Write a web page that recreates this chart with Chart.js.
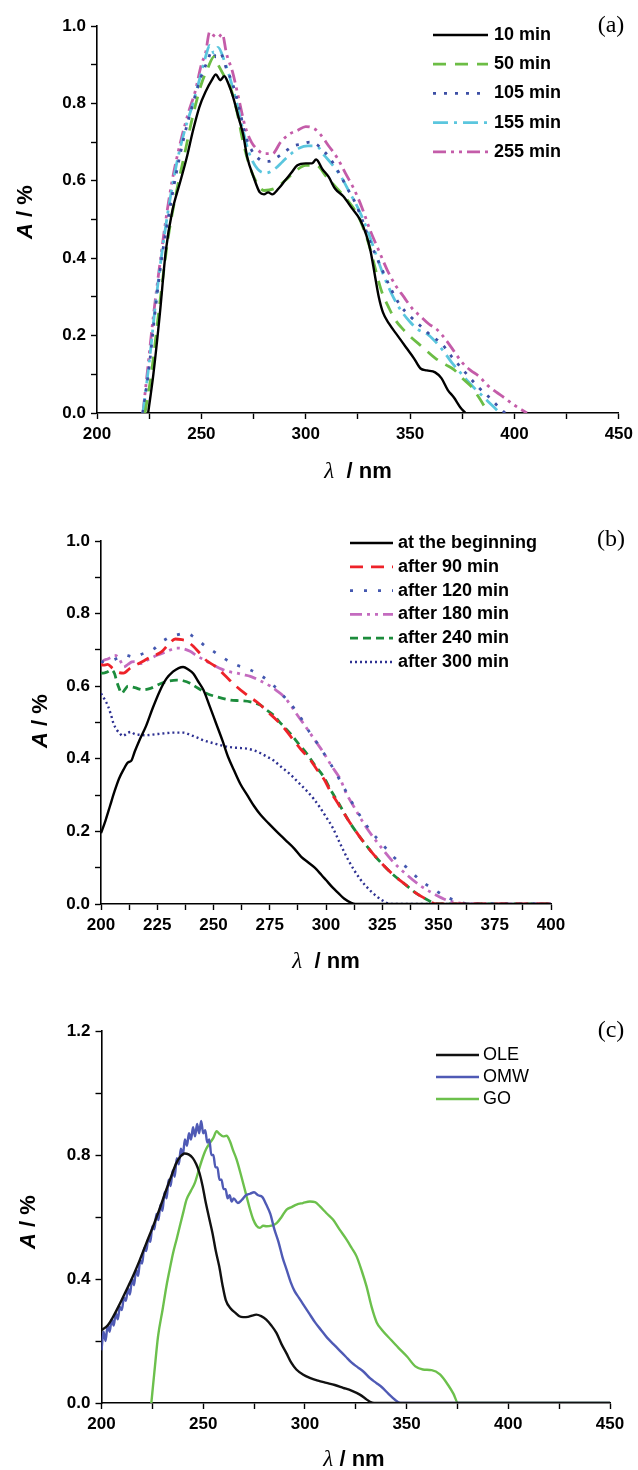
<!DOCTYPE html>
<html>
<head>
<meta charset="utf-8">
<script src="https://cdn.jsdelivr.net/npm/chart.js@4.4.1/dist/chart.umd.min.js"></script>
<style>
  body { margin: 0; background: #fff; }
  #page { position: relative; width: 638px; height: 1470px; overflow: hidden; }
  .panel { position: absolute; left: 0; width: 638px; height: 490px; }
</style>
</head>
<body>
<div id="page">
  <div class="panel" style="top:0px"><canvas id="chartA"></canvas></div>
  <div class="panel" style="top:490px"><canvas id="chartB"></canvas></div>
  <div class="panel" style="top:980px"><canvas id="chartC"></canvas></div>
</div>
<script>
// ---- panel (a): [wavelength nm, A %]
var min10 = [[224.5,0],[227,0.1],[230,0.25],[233,0.42],[236,0.52],[240,0.6],[243,0.66],[246,0.73],[249,0.79],[252,0.83],[255,0.86],[257,0.875],[259,0.86],[261,0.87],[263,0.85],[265,0.82],[268,0.76],[270,0.72],[272,0.66],[275,0.61],[278,0.57],[280,0.565],[282,0.57],[284,0.565],[287,0.58],[290,0.6],[293,0.62],[296,0.64],[300,0.645],[303,0.645],[305,0.655],[308,0.63],[311,0.61],[314,0.58],[318,0.56],[322,0.53],[326,0.5],[329,0.46],[331,0.42],[333,0.36],[335,0.3],[337,0.26],[340,0.23],[344,0.2],[348,0.17],[352,0.14],[355,0.115],[358,0.11],[362,0.105],[365,0.09],[368,0.06],[371,0.04],[374,0.015],[376.5,0]];
var min50 = [[223,0],[226,0.1],[230,0.28],[234,0.45],[238,0.57],[242,0.67],[246,0.77],[250,0.85],[253,0.89],[256,0.92],[258,0.9],[261,0.87],[264,0.84],[267,0.78],[270,0.7],[273,0.64],[276,0.6],[280,0.575],[285,0.58],[290,0.6],[295,0.625],[300,0.64],[305,0.64],[310,0.61],[315,0.58],[320,0.55],[325,0.51],[330,0.44],[333,0.38],[336,0.32],[340,0.27],[343,0.24],[346,0.22],[350,0.198],[356,0.17],[362,0.142],[367,0.125],[371,0.112],[375,0.09],[379,0.07],[383,0.04],[386.5,0.009],[387.5,0]];
var min105 = [[222,0],[225,0.12],[228,0.27],[231,0.4],[234,0.5],[238,0.62],[242,0.72],[246,0.8],[250,0.87],[253,0.91],[255,0.935],[257,0.92],[259,0.93],[262,0.89],[265,0.85],[268,0.79],[271,0.72],[274,0.68],[278,0.655],[282,0.65],[286,0.66],[290,0.675],[294,0.69],[298,0.695],[302,0.7],[305,0.695],[309,0.675],[312,0.655],[316,0.62],[320,0.58],[324,0.54],[327,0.5],[331,0.44],[335,0.39],[340,0.33],[345,0.28],[350,0.25],[355,0.225],[360,0.2],[365,0.18],[370,0.145],[374,0.12],[378,0.095],[383,0.065],[388,0.04],[392,0.018],[395.5,0]];
var min155 = [[222,0],[225,0.13],[228,0.28],[231,0.41],[234,0.52],[238,0.64],[242,0.73],[246,0.8],[250,0.88],[252,0.92],[254,0.95],[256,0.93],[258,0.945],[261,0.91],[264,0.86],[267,0.8],[270,0.73],[273,0.67],[277,0.63],[281,0.62],[285,0.63],[289,0.65],[293,0.67],[297,0.685],[301,0.69],[305,0.69],[309,0.665],[313,0.64],[317,0.61],[321,0.57],[325,0.53],[329,0.48],[333,0.42],[337,0.36],[341,0.31],[345,0.27],[350,0.235],[354,0.215],[358,0.205],[362,0.185],[366,0.16],[370,0.13],[374,0.105],[378,0.08],[382,0.058],[386,0.037],[390,0.016],[393,0]];
var min255 = [[222,0],[224,0.1],[227,0.25],[230,0.38],[233,0.5],[236,0.6],[240,0.7],[244,0.78],[247,0.83],[250,0.9],[252,0.93],[254,0.985],[256,0.975],[258,0.97],[260,0.98],[262,0.93],[265,0.88],[268,0.81],[271,0.74],[274,0.7],[277,0.68],[280,0.67],[284,0.67],[288,0.7],[292,0.72],[296,0.73],[300,0.74],[304,0.735],[307,0.72],[311,0.69],[315,0.66],[319,0.62],[323,0.58],[327,0.53],[331,0.47],[335,0.42],[339,0.37],[343,0.33],[347,0.3],[351,0.27],[355,0.25],[359,0.23],[363,0.215],[367,0.19],[371,0.16],[375,0.13],[379,0.11],[383,0.095],[387,0.072],[391,0.055],[395,0.04],[400,0.02],[406,0]];

// ---- panel (b)
var begin0 = [[200,0.195],[202,0.23],[204,0.27],[206,0.31],[208,0.345],[210,0.37],[212,0.39],[213.5,0.395],[215,0.42],[217,0.45],[220,0.49],[223,0.54],[226,0.585],[229,0.62],[232,0.64],[234.5,0.65],[236.5,0.653],[239,0.645],[241,0.635],[243,0.615],[245.5,0.59],[248,0.55],[251,0.5],[254,0.45],[256.5,0.405],[259,0.37],[262,0.33],[265,0.3],[268,0.27],[271,0.245],[274.5,0.222],[278,0.2],[282,0.176],[286,0.152],[289,0.13],[292,0.115],[295,0.1],[298,0.08],[300,0.066],[303,0.045],[305.5,0.03],[308,0.015],[311,0.004],[313,0],[400,0]];
var after90 = [[200,0.66],[201,0.658],[203,0.66],[205,0.65],[207,0.64],[210,0.636],[213,0.65],[217,0.663],[222,0.68],[227,0.695],[230,0.715],[233,0.73],[236,0.728],[238,0.725],[241,0.71],[244,0.69],[247,0.67],[251,0.654],[255,0.63],[260,0.6],[265,0.575],[270,0.553],[274,0.53],[278,0.507],[282,0.48],[285.5,0.452],[289,0.425],[293,0.397],[296,0.37],[299,0.345],[302,0.31],[305,0.28],[310,0.23],[315,0.185],[320,0.145],[325,0.11],[330,0.08],[335,0.055],[340,0.03],[345,0.012],[349,0],[400,0]];
var after120 = [[200,0.665],[201,0.668],[203,0.67],[205.5,0.672],[208,0.68],[210,0.686],[212,0.684],[215,0.68],[218,0.688],[221,0.695],[224,0.705],[226.4,0.72],[229,0.73],[231.4,0.738],[234,0.742],[236,0.745],[238,0.746],[241,0.737],[243.6,0.725],[246,0.712],[249,0.7],[253.8,0.68],[257,0.668],[260.4,0.658],[266.3,0.645],[271.6,0.627],[276.7,0.602],[280.5,0.577],[285.6,0.541],[289.3,0.508],[293,0.47],[296.7,0.438],[300.4,0.402],[304,0.365],[308,0.32],[312,0.275],[316,0.235],[320,0.2],[325,0.165],[330,0.13],[336,0.1],[342,0.065],[348,0.04],[354,0.018],[360,0.005],[363,0],[400,0]];
var after180 = [[200,0.66],[201,0.67],[203,0.675],[204.7,0.68],[206,0.685],[207.7,0.68],[209,0.665],[210,0.653],[212,0.66],[213.7,0.667],[215.5,0.668],[217.4,0.662],[220,0.67],[224.8,0.685],[229,0.695],[233.7,0.705],[236,0.704],[239.6,0.696],[242,0.686],[245.6,0.673],[250,0.658],[254.4,0.645],[257,0.64],[260.4,0.636],[263,0.632],[266.4,0.627],[270,0.617],[275.3,0.6],[278,0.588],[281.2,0.572],[284,0.55],[287.1,0.522],[290,0.497],[293,0.47],[296,0.443],[299,0.416],[302.5,0.38],[306.4,0.343],[309,0.305],[312.3,0.269],[315,0.24],[318,0.21],[324,0.16],[330,0.115],[336,0.08],[342,0.05],[348,0.028],[354,0.01],[360,0.002],[362,0],[400,0]];
var after240 = [[200,0.636],[201,0.636],[203,0.64],[204.7,0.645],[206,0.635],[207,0.613],[208,0.595],[209.2,0.58],[210.5,0.59],[212,0.6],[215,0.596],[218.7,0.59],[222,0.594],[226.9,0.608],[230,0.614],[233.6,0.617],[236.5,0.615],[239.6,0.608],[243,0.595],[247,0.58],[252,0.57],[257.4,0.562],[262,0.56],[266.4,0.557],[270.8,0.548],[273.5,0.535],[276.7,0.52],[280,0.497],[284.1,0.47],[288,0.44],[291.6,0.413],[295,0.383],[299,0.35],[302,0.315],[305.7,0.277],[310,0.23],[315,0.185],[320,0.145],[325,0.11],[330,0.08],[335,0.055],[340,0.03],[345,0.012],[349,0],[400,0]];
var after300 = [[200,0.58],[201.5,0.565],[203.2,0.544],[204.5,0.52],[205.5,0.498],[207,0.48],[208.4,0.47],[209.5,0.463],[210.4,0.465],[212,0.472],[213.4,0.474],[215,0.468],[217.3,0.466],[220,0.465],[224.7,0.468],[228,0.47],[232.1,0.472],[236.6,0.472],[240,0.465],[242.5,0.459],[246,0.45],[249.9,0.443],[254,0.436],[257.4,0.432],[261,0.43],[264.8,0.428],[268,0.423],[270.7,0.416],[274,0.405],[276.6,0.396],[280,0.378],[284,0.358],[288,0.333],[291.4,0.312],[294.5,0.29],[297.3,0.266],[300,0.24],[303,0.21],[306,0.17],[310,0.12],[315,0.07],[320,0.035],[325,0.01],[329,0],[400,0]];

// ---- panel (c)
var ole = [[200,0.235],[203,0.25],[205.7,0.278],[209,0.32],[212.2,0.364],[215.5,0.41],[218.8,0.461],[222,0.515],[225.3,0.569],[228.5,0.625],[231.8,0.687],[234.5,0.735],[236.7,0.773],[238.8,0.795],[240.8,0.805],[242.8,0.802],[244.9,0.79],[246.6,0.77],[248.2,0.741],[249.7,0.7],[251,0.655],[252.8,0.6],[254.6,0.547],[256.2,0.49],[257.9,0.44],[259.5,0.38],[261.1,0.332],[263.5,0.305],[266,0.29],[267.8,0.28],[269.6,0.277],[272,0.278],[274,0.282],[276.1,0.285],[278.5,0.28],[281,0.269],[283.5,0.25],[286,0.226],[288.5,0.19],[290.9,0.161],[293.3,0.13],[295.8,0.108],[299,0.092],[302.4,0.081],[306.5,0.072],[310.6,0.065],[314.7,0.058],[318.8,0.049],[322.9,0.04],[327,0.027],[330,0.013],[332,0.004],[334,0],[450,0]];
var omw = [[200,0.17],[201,0.23],[202,0.2],[203,0.25],[204,0.23],[205,0.27],[206,0.25],[207,0.29],[208,0.27],[209,0.31],[210,0.3],[211,0.34],[212,0.33],[213,0.37],[214,0.35],[215,0.4],[216,0.38],[217,0.43],[218,0.41],[219,0.46],[220,0.45],[221,0.5],[222,0.49],[223,0.53],[224,0.52],[225,0.57],[226,0.56],[227,0.61],[228,0.59],[229,0.64],[230,0.62],[231,0.68],[232,0.66],[233,0.72],[234,0.7],[235,0.75],[236,0.73],[237,0.79],[238,0.77],[239,0.82],[240,0.8],[241,0.85],[242,0.83],[243,0.87],[244,0.85],[245,0.89],[246,0.86],[247,0.9],[248,0.87],[249,0.91],[250,0.87],[251,0.88],[252,0.84],[253,0.85],[254,0.8],[255,0.8],[256,0.76],[257,0.76],[258,0.72],[259,0.72],[260,0.69],[261,0.69],[262,0.66],[263,0.67],[264,0.65],[265,0.66],[267,0.645],[269,0.655],[271,0.67],[273,0.675],[275,0.68],[277,0.67],[279,0.665],[281,0.64],[283,0.61],[285,0.56],[287,0.52],[289,0.47],[291,0.43],[293,0.39],[295,0.36],[297,0.34],[299,0.32],[302,0.29],[305,0.26],[308,0.235],[311,0.21],[314,0.19],[317,0.17],[320,0.15],[323,0.13],[326,0.115],[329,0.1],[332,0.08],[335,0.065],[338,0.05],[341,0.03],[344,0.012],[347,0],[450,0]];
var go = [[224.5,0],[226,0.1],[227.8,0.215],[230,0.3],[231.9,0.376],[233.5,0.43],[235.2,0.484],[237,0.53],[238.5,0.57],[240.2,0.615],[241.8,0.656],[244,0.685],[245.9,0.71],[248,0.755],[250,0.796],[251.5,0.82],[253.3,0.839],[255,0.855],[256.6,0.877],[258,0.868],[259.8,0.86],[261.5,0.862],[263.1,0.845],[264.7,0.815],[266.4,0.786],[268.8,0.73],[271.3,0.667],[273,0.625],[274.6,0.592],[276.2,0.572],[277.9,0.565],[279.5,0.572],[281.2,0.57],[283.5,0.572],[286.1,0.58],[288.5,0.6],[291,0.624],[293.5,0.632],[295.9,0.64],[299,0.645],[302.5,0.65],[305,0.648],[307.4,0.634],[310.5,0.613],[313.9,0.591],[317,0.56],[320.5,0.527],[323,0.5],[325.4,0.473],[328,0.425],[330.3,0.376],[332.8,0.31],[335.3,0.26],[338,0.235],[342.3,0.204],[346,0.178],[350.2,0.15],[354.3,0.118],[358,0.108],[362.3,0.106],[366.4,0.092],[370.4,0.058],[373,0.03],[375.3,0],[450,0]];

Chart.defaults.font.family = '"Liberation Sans", Arial, sans-serif';
Chart.defaults.color = '#000';

function pts(arr) {
  return arr.map(function(p){ return { x: p[0], y: p[1] }; });
}

function line(label, arr, color, dash, width) {
  return {
    label: label,
    data: pts(arr),
    borderColor: color,
    borderDash: dash,
    borderWidth: width || 2.6,
    pointRadius: 0,
    fill: false,
    cubicInterpolationMode: 'monotone'
  };
}

// draws the legend, the (a)/(b)/(c) tag and the two axis titles
var decor = {
  id: 'decor',
  afterDraw: function(chart, args, o) {
    var ctx = chart.ctx;
    ctx.save();
    ctx.textBaseline = 'middle';
    chart.data.datasets.forEach(function(ds, i) {
      var y = o.legTop + i * o.legGap;
      ctx.beginPath();
      ctx.strokeStyle = ds.borderColor;
      ctx.lineWidth = ds.borderWidth;
      ctx.setLineDash(ds.borderDash || []);
      ctx.moveTo(o.legX0, y);
      ctx.lineTo(o.legX1, y);
      ctx.stroke();
      ctx.setLineDash([]);
      ctx.fillStyle = '#000';
      ctx.textAlign = 'left';
      ctx.font = o.legFont;
      ctx.fillText(ds.label, o.legText, y);
    });
    ctx.textAlign = 'center';
    ctx.font = '24px "Liberation Serif", "Times New Roman", serif';
    ctx.fillText(o.tag, o.tagX, o.tagY);

    // x title: lambda / nm
    mixed(ctx, [['italic 23px "Liberation Serif", serif', 'λ'], ['bold 22px "Liberation Sans", Arial', o.xGap + '/ nm']], o.xtX, o.xtY);
    // y title: A / %
    ctx.save();
    ctx.translate(o.ytX, o.ytY);
    ctx.rotate(-Math.PI / 2);
    mixed(ctx, [['italic bold 22px "Liberation Sans", Arial', 'A'], ['bold 22px "Liberation Sans", Arial', ' / %']], 0, 0);
    ctx.restore();
    ctx.restore();
  }
};

function mixed(ctx, parts, cx, cy) {
  var total = 0;
  parts.forEach(function(p){ ctx.font = p[0]; total += ctx.measureText(p[1]).width; });
  var x = cx - total / 2;
  ctx.textAlign = 'left';
  parts.forEach(function(p){
    ctx.font = p[0];
    ctx.fillText(p[1], x, cy);
    x += ctx.measureText(p[1]).width;
  });
}

function makeChart(id, datasets, ax, pad, deco) {
  return new Chart(document.getElementById(id), {
    type: 'line',
    data: { datasets: datasets },
    options: {
      responsive: true,
      maintainAspectRatio: false,
      animation: false,
      layout: { padding: pad },
      plugins: { legend: { display: false }, tooltip: { enabled: false }, decor: deco },
      scales: {
        x: {
          type: 'linear', min: ax.xMin, max: ax.xMax,
          afterFit: function(s){ s.height = 40; },
          border: { display: true, color: '#000', width: 1.6 },
          grid: { drawOnChartArea: false, drawTicks: true, tickLength: 6, tickColor: '#000', tickWidth: 1.4 },
          ticks: {
            stepSize: ax.xStep, autoSkip: false, maxRotation: 0, padding: 5,
            font: { size: 17, weight: 'bold' }, color: '#000',
            callback: function(v){ return (Math.round(v * 10) % (ax.xLab * 10) === 0) ? String(v) : ''; }
          }
        },
        y: {
          type: 'linear', min: 0, max: ax.yMax,
          afterFit: function(s){ s.width = 60; },
          border: { display: true, color: '#000', width: 1.6 },
          grid: { drawOnChartArea: false, drawTicks: true, tickLength: 6, tickColor: '#000', tickWidth: 1.4 },
          ticks: {
            stepSize: ax.yStep, autoSkip: false, padding: 5,
            font: { size: 17, weight: 'bold' }, color: '#000',
            callback: function(v){ var k = Math.round(v * 10); return (k % ax.yLab === 0) ? (k / 10).toFixed(1) : ''; }
          }
        }
      }
    },
    plugins: [decor]
  });
}

makeChart('chartA', [
  line('10 min', min10, '#000000', [], 2.4),
  line('50 min', min50, '#6cbd45', [13, 9], 2.8),
  line('105 min', min105, '#3d4fa5', [3, 8], 2.8),
  line('155 min', min155, '#5bc6de', [15, 6, 3, 6], 2.8),
  line('255 min', min255, '#c45ca9', [13, 5, 3, 5, 3, 5], 2.8)
], { xMin: 200, xMax: 450, xStep: 25, xLab: 50, yMax: 1.0, yStep: 0.1, yLab: 2 },
   { left: 37, right: 16, top: 26, bottom: 37 },
   { legTop: 35, legGap: 29.2, legX0: 433, legX1: 488, legText: 494, legFont: 'bold 18px "Liberation Sans", Arial',
     tag: '(a)', tagX: 611, tagY: 26, xtX: 358, xtY: 472, ytX: 26, ytY: 212, xGap: '  ' });

makeChart('chartB', [
  line('at the beginning', begin0, '#000000', [], 2.4),
  line('after 90 min', after90, '#ee2229', [13, 8], 2.8),
  line('after 120 min', after120, '#4458b0', [3, 11], 2.8),
  line('after 180 min', after180, '#c46bbf', [12, 5, 3, 5, 3, 5], 2.8),
  line('after 240 min', after240, '#1c8c3c', [8, 5], 2.8),
  line('after 300 min', after300, '#2e3192', [2, 3], 2.4)
], { xMin: 200, xMax: 400, xStep: 12.5, xLab: 25, yMax: 1.0, yStep: 0.1, yLab: 2 },
   { left: 41, right: 87, top: 51, bottom: 36 },
   { legTop: 53, legGap: 23.8, legX0: 350, legX1: 393, legText: 398, legFont: 'bold 18px "Liberation Sans", Arial',
     tag: '(b)', tagX: 611, tagY: 50, xtX: 326, xtY: 472, ytX: 41, ytY: 231, xGap: '  ' });

makeChart('chartC', [
  line('OLE', ole, '#111111', [], 2.4),
  line('OMW', omw, '#4f5ab5', [], 2.4),
  line('GO', go, '#6cc04c', [], 2.4)
], { xMin: 200, xMax: 450, xStep: 25, xLab: 50, yMax: 1.2, yStep: 0.2, yLab: 4 },
   { left: 41.5, right: 28, top: 51, bottom: 27 },
   { legTop: 75, legGap: 22, legX0: 436, legX1: 479, legText: 483, legFont: '18px "Liberation Sans", Arial',
     tag: '(c)', tagX: 611, tagY: 51, xtX: 354, xtY: 480, ytX: 29, ytY: 242, xGap: ' ' });
</script>
</body>
</html>
